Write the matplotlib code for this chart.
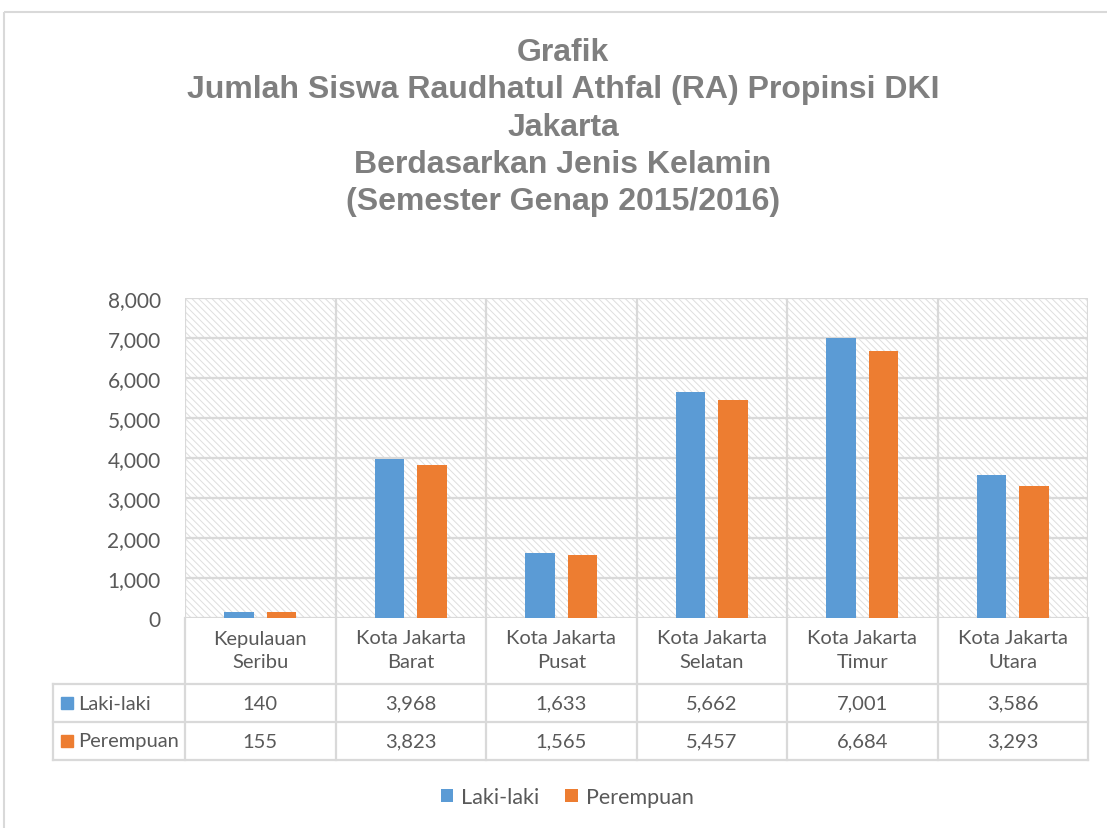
import matplotlib
matplotlib.use("Agg")
import matplotlib.pyplot as plt
from matplotlib.patches import Rectangle
import numpy as np

categories = ["Kepulauan\nSeribu", "Kota Jakarta\nBarat", "Kota Jakarta\nPusat",
              "Kota Jakarta\nSelatan", "Kota Jakarta\nTimur", "Kota Jakarta\nUtara"]
laki = [140, 3968, 1633, 5662, 7001, 3586]
perempuan = [155, 3823, 1565, 5457, 6684, 3293]
series_names = ["Laki-laki", "Perempuan"]
yticks = [0, 1000, 2000, 3000, 4000, 5000, 6000, 7000, 8000]
title = ("Grafik\nJumlah Siswa Raudhatul Athfal (RA) Propinsi DKI\nJakarta\n"
         "Berdasarkan Jenis Kelamin\n(Semester Genap 2015/2016)")

BLUE = "#5b9bd5"
ORANGE = "#ed7d31"
GRID = "#d9d9d9"
TXT = "#595959"
FONT = ["Lato", "DejaVu Sans"]

plt.rcParams["hatch.linewidth"] = 0.7
plt.rcParams["hatch.color"] = "#dcdcdc"

W, H = 1107, 829
fig = plt.figure(figsize=(W / 100, H / 100), dpi=100)

# overlay in pixel coords
ov = fig.add_axes([0, 0, 1, 1])
ov.set_xlim(0, W)
ov.set_ylim(H, 0)
ov.axis("off")
ov.set_zorder(0)

# outer chart border
ov.add_patch(Rectangle((4, 13), W + 20, H, fill=False, ec=GRID, lw=1.5))

L, R, T, B = 185, 1088, 299, 619
ax = fig.add_axes([L / W, 1 - B / H, (R - L) / W, (B - T) / H])
ax.set_zorder(2)
ax.patch.set_alpha(0)
n = len(categories)
ax.set_xlim(-0.5, n - 0.5)
ax.set_ylim(0, 8000)

# hatched background
ax.add_patch(Rectangle((-0.5, 0), n, 8000, facecolor="white", hatch="\\\\\\\\\\",
                       edgecolor="#dedede", lw=0, zorder=0))

x = np.arange(n)
bw = 0.195
off = 0.142
ax.bar(x - off, laki, bw, color=BLUE, zorder=3, label=series_names[0])
ax.bar(x + off, perempuan, bw, color=ORANGE, zorder=3, label=series_names[1])

for yv in yticks:
    ax.axhline(yv, color=GRID, lw=1.6, zorder=1)
for xv in np.arange(n + 1) - 0.5:
    ax.axvline(xv, color=GRID, lw=1.6, zorder=1)

ax.set_yticks(yticks)
ax.set_yticklabels([f"{v:,}" for v in yticks], fontsize=15, color=TXT, family=FONT)
ax.tick_params(axis="y", length=0, pad=17.5)
ax.set_xticks([])
for s in ax.spines.values():
    s.set_visible(False)

# title
fig.text(563 / W, 1 - 38 / H, title, ha="center", va="top", fontsize=23,
         fontweight="bold", color="#7f7f7f", family="Liberation Sans", linespacing=1.32)

# data table
colw = (R - L) / n
TL = 53
rows_y = [619, 685, 723, 761]
for yy in rows_y[1:]:
    ov.plot([TL, R], [yy, yy], color=GRID, lw=1.6)
ov.plot([TL, TL], [rows_y[1], rows_y[3]], color=GRID, lw=1.6)
for i in range(n + 1):
    xx = L + i * colw
    ov.plot([xx, xx], [rows_y[0], rows_y[3]], color=GRID, lw=1.6)

for i, c in enumerate(categories):
    ov.text(L + (i + 0.5) * colw, 651, c, ha="center", va="center", fontsize=14.5,
            color=TXT, family=FONT, linespacing=1.5)
for r, (name, vals, col) in enumerate([(series_names[0], laki, BLUE),
                                       (series_names[1], perempuan, ORANGE)]):
    yc = (rows_y[r + 1] + rows_y[r + 2]) / 2
    ov.add_patch(Rectangle((61, yc - 6), 12, 12, color=col))
    ov.text(78, yc, name, ha="left", va="center", fontsize=14.5, color=TXT, family=FONT)
    for i, v in enumerate(vals):
        ov.text(L + (i + 0.5) * colw, yc, f"{v:,}", ha="center", va="center",
                fontsize=14.5, color=TXT, family=FONT)

# legend
leg = fig.legend(loc="center", bbox_to_anchor=(567 / W, 1 - 798 / H), ncol=2,
                 frameon=False, prop={"family": FONT, "size": 15.5},
                 handlelength=0.6, handleheight=0.6, handletextpad=0.35,
                 columnspacing=1.2)
for t in leg.get_texts():
    t.set_color(TXT)

fig.savefig("out.png", dpi=100)
